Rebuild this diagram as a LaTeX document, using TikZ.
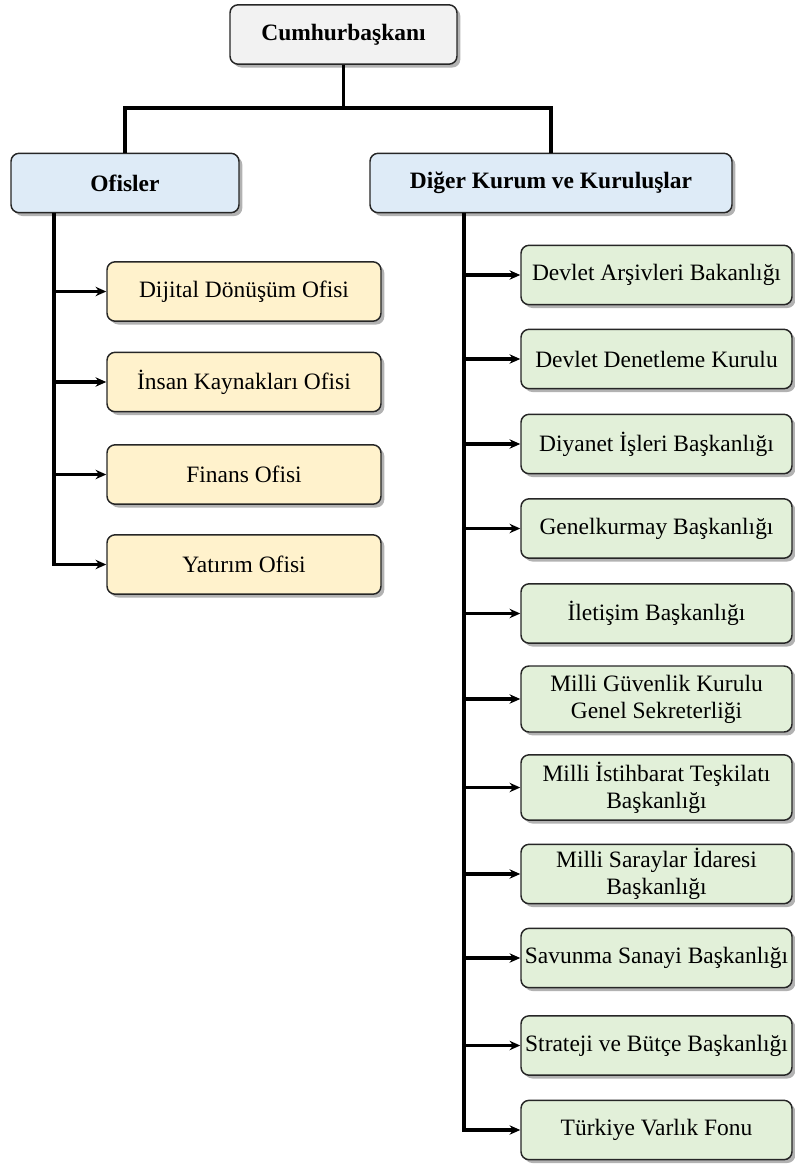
\documentclass[tikz,border=0pt]{standalone}
\usepackage{fontspec}
\setmainfont{Liberation Serif}
\usetikzlibrary{arrows.meta,shadows}
\definecolor{boxgray}{HTML}{F2F2F2}
\definecolor{boxblue}{HTML}{DEEBF7}
\definecolor{boxyellow}{HTML}{FFF2CC}
\definecolor{boxgreen}{HTML}{E2F0D9}
\definecolor{edgegray}{HTML}{262626}

\begin{document}
\begin{tikzpicture}[x=0.75pt,y=0.75pt,yscale=-1,xscale=1,
  orgbox/.style={draw=edgegray, line width=1.1pt, rounded corners=6pt, align=center, inner sep=2pt,
    minimum height=44.5pt, font=\fontsize{17.6}{20.25}\selectfont,
    drop shadow={shadow xshift=2.5pt, shadow yshift=-2.5pt, opacity=0.3, fill=black}},
  headbox/.style={orgbox, font=\fontsize{17.6}{20.25}\selectfont\bfseries},
  officebox/.style={orgbox, fill=boxyellow, minimum width=205.5pt},
  unitbox/.style={orgbox, fill=boxgreen, minimum width=203.25pt},
  link/.style={line width=2.4pt},
  feed/.style={line width=2.4pt, -{Stealth[length=8pt,width=7pt]}}]
\useasboundingbox (0,0) rectangle (794,1165);

%Top level
\node[headbox, fill=boxgray, minimum width=170.25pt] (cumhur) at (343.5,34.5) {Cumhurbaşkanı};
\node[headbox, fill=boxblue, minimum width=171pt] (ofisler) at (125,183) {Ofisler};
\node[headbox, fill=boxblue, minimum width=271.5pt] (diger) at (551,183) {Diğer Kurum ve Kuruluşlar};

%Offices
\node[officebox] (dijital) at (244,291.5) {Dijital Dönüşüm Ofisi};
\node[officebox] (insan) at (244,382) {İnsan Kaynakları Ofisi};
\node[officebox] (finans) at (244,474.5) {Finans Ofisi};
\node[officebox] (yatirim) at (244,564.5) {Yatırım Ofisi};

%Other institutions
\node[unitbox] (arsiv) at (656.5,275) {Devlet Arşivleri Bakanlığı};
\node[unitbox] (denetleme) at (656.5,359) {Devlet Denetleme Kurulu};
\node[unitbox] (diyanet) at (656.5,444) {Diyanet İşleri Başkanlığı};
\node[unitbox] (genelkurmay) at (656.5,528.5) {Genelkurmay Başkanlığı};
\node[unitbox] (iletisim) at (656.5,613.5) {İletişim Başkanlığı};
\node[unitbox, minimum height=49.5pt] (mgk) at (656.5,699) {Milli Güvenlik Kurulu\\Genel Sekreterliği};
\node[unitbox, minimum height=49pt] (mit) at (656.5,787.5) {Milli İstihbarat Teşkilatı\\Başkanlığı};
\node[unitbox] (saraylar) at (656.5,874) {Milli Saraylar İdaresi\\Başkanlığı};
\node[unitbox] (savunma) at (656.5,958) {Savunma Sanayi Başkanlığı};
\node[unitbox] (strateji) at (656.5,1045.5) {Strateji ve Bütçe Başkanlığı};
\node[unitbox] (varlik) at (656.5,1130) {Türkiye Varlık Fonu};

%Connectors
\coordinate (fork) at (343.5,108);
\coordinate (ltrunk) at (54,213);
\coordinate (rtrunk) at (464,213);

\draw[link] (cumhur.south) -- (cumhur.south |- fork);
\draw[link] (ofisler.north) |- (fork) -| (diger.north);

\draw[feed] (ofisler.south -| ltrunk) |- (yatirim.west);
\foreach \n in {dijital,insan,finans}
  \draw[feed] (ltrunk |- \n.west) -- (\n.west);

\draw[feed] (diger.south -| rtrunk) |- (varlik.west);
\foreach \n in {arsiv,denetleme,diyanet,genelkurmay,iletisim,mgk,mit,saraylar,savunma,strateji}
  \draw[feed] (rtrunk |- \n.west) -- (\n.west);

\end{tikzpicture}
\end{document}
